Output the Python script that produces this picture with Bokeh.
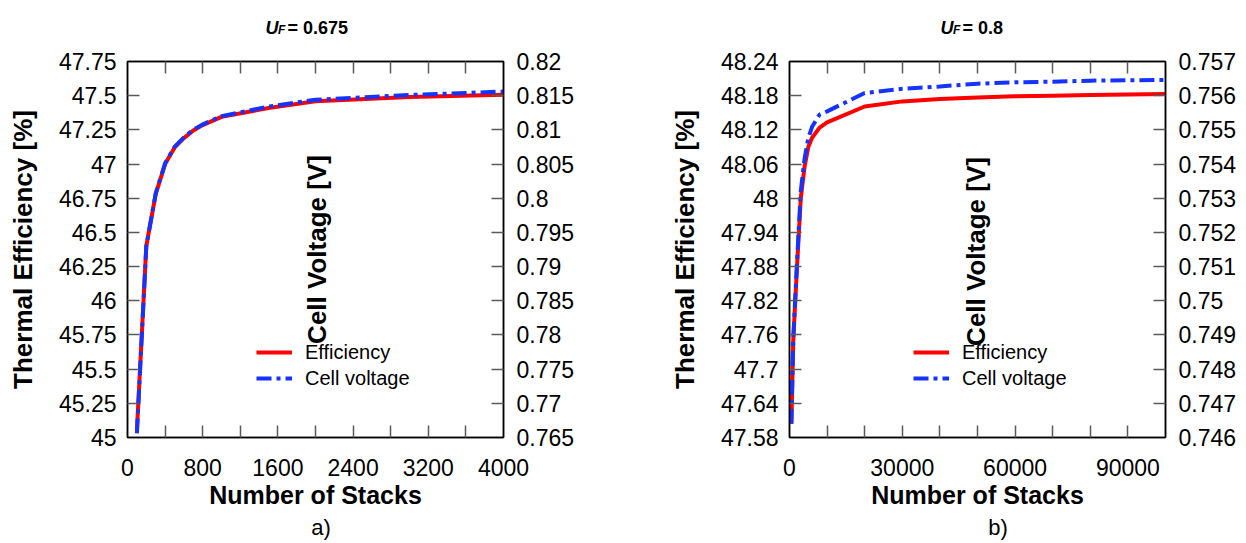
import math
from bokeh.plotting import figure
from bokeh.models import (Range1d, LinearAxis, FixedTicker, Label, Legend,
                          LegendItem)
from bokeh.layouts import row, column
from bokeh.embed import file_html
from bokeh.resources import INLINE

# ------------------------------------------------------------------ data
# panel a)  U_F = 0.675
stacks_a = [100, 200, 300, 400, 500, 600, 700, 800, 1000, 1500, 2000, 3000, 4000]
eff_a = [45.05, 46.40, 46.78, 47.00, 47.12, 47.19, 47.245, 47.285, 47.345,
         47.41, 47.46, 47.49, 47.507]
volt_a = [0.7656, 0.7930, 0.8007, 0.8051, 0.8075, 0.8089, 0.8100, 0.8108,
          0.8120, 0.8134, 0.8144, 0.8151, 0.8156]

# panel b)  U_F = 0.8
stacks_b = [500, 1000, 2000, 3000, 4000, 5000, 6000, 8000, 10000, 20000, 30000,
            40000, 50000, 60000, 70000, 80000, 90000, 100000]
eff_b = [47.604, 47.75, 47.88, 48.00, 48.055, 48.09, 48.106, 48.124, 48.133,
         48.161, 48.170, 48.174, 48.177, 48.179, 48.180, 48.181, 48.182, 48.183]
volt_b = [0.74640, 0.74889, 0.75115, 0.75321, 0.75415, 0.75476, 0.75509,
          0.75545, 0.75554, 0.75608, 0.75620, 0.75627, 0.75635, 0.75639,
          0.75641, 0.75644, 0.75645, 0.75646]

# tick values and labels
eff_ticks_a = [45.0, 45.25, 45.5, 45.75, 46.0, 46.25, 46.5, 46.75, 47.0, 47.25, 47.5, 47.75]
eff_labels_a = ["45", "45.25", "45.5", "45.75", "46", "46.25", "46.5", "46.75",
                "47", "47.25", "47.5", "47.75"]
volt_ticks_a = [0.765, 0.77, 0.775, 0.78, 0.785, 0.79, 0.795, 0.8, 0.805, 0.81, 0.815, 0.82]
volt_labels_a = ["0.765", "0.77", "0.775", "0.78", "0.785", "0.79", "0.795", "0.8",
                 "0.805", "0.81", "0.815", "0.82"]
x_ticks_a = [0, 800, 1600, 2400, 3200, 4000]
x_labels_a = ["0", "800", "1600", "2400", "3200", "4000"]
x_marks_a = [400, 800, 1200, 1600, 2000, 2400, 2800, 3200, 3600]

eff_ticks_b = [47.58, 47.64, 47.7, 47.76, 47.82, 47.88, 47.94, 48.0, 48.06, 48.12, 48.18, 48.24]
eff_labels_b = ["47.58", "47.64", "47.7", "47.76", "47.82", "47.88", "47.94", "48",
                "48.06", "48.12", "48.18", "48.24"]
volt_ticks_b = [0.746, 0.747, 0.748, 0.749, 0.75, 0.751, 0.752, 0.753, 0.754, 0.755, 0.756, 0.757]
volt_labels_b = ["0.746", "0.747", "0.748", "0.749", "0.75", "0.751", "0.752", "0.753",
                 "0.754", "0.755", "0.756", "0.757"]
x_ticks_b = [0, 30000, 60000, 90000]
x_labels_b = ["0", "30000", "60000", "90000"]
x_marks_b = [10000, 20000, 30000, 40000, 50000, 60000, 70000, 80000, 90000]

uf_a = "0.675"
uf_b = "0.8"

# ------------------------------------------------------------------ style
FONT = "Liberation Sans"
RED = "#ff0000"
BLUE = "#1433ff"
TICK = "#5a5a5a"
FRAME = 376
HEAD_H = 40
FOOT_H = 30
TOP_B = 21
BOT_B = 76


def style_axis(ax, standoff):
    ax.axis_line_color = "black"
    ax.axis_line_width = 1.5
    ax.major_tick_in = 0
    ax.major_tick_out = 0
    ax.minor_tick_in = 12
    ax.minor_tick_out = 0
    ax.minor_tick_line_color = TICK
    ax.minor_tick_line_width = 1.5
    ax.major_label_text_font = FONT
    ax.major_label_text_font_size = "23px"
    ax.major_label_text_color = "black"
    ax.major_label_standoff = standoff
    ax.axis_label_text_font = FONT
    ax.axis_label_text_font_style = "bold"
    ax.axis_label_text_color = "black"


def label(p, x, y, text, size, style="bold", angle=0.0, align="center",
          baseline="middle"):
    p.add_layout(Label(x=x, y=y, x_units="screen", y_units="screen", text=text,
                       angle=angle, text_align=align, text_baseline=baseline,
                       text_font=FONT, text_font_size=f"{size}px",
                       text_font_style=style, text_color="black"))


def text_strip(height):
    p = figure(width=1246, height=height, x_range=Range1d(0, 1),
               y_range=Range1d(0, 1), x_axis_location=None,
               y_axis_location=None, output_backend="svg",
               toolbar_location=None, min_border=0,
               background_fill_color="white", border_fill_color="white")
    p.outline_line_color = None
    p.grid.visible = False
    return p


def panel(stacks, eff, volt, eff_ticks, eff_labels, volt_ticks, volt_labels,
          x_ticks, x_labels, x_marks, x_end, border_left, border_right, pos):
    p = figure(frame_width=FRAME, frame_height=FRAME,
               x_range=Range1d(0, x_end),
               y_range=Range1d(eff_ticks[0], eff_ticks[-1]),
               output_backend="svg", toolbar_location=None,
               min_border_left=border_left, min_border_right=border_right,
               min_border_top=TOP_B, min_border_bottom=BOT_B,
               background_fill_color="white", border_fill_color="white")
    p.extra_y_ranges = {"volt": Range1d(volt_ticks[0], volt_ticks[-1])}
    p.xgrid.visible = False
    p.ygrid.visible = False
    p.outline_line_color = "black"
    p.outline_line_width = 1.5

    # left axis
    ya = p.yaxis[0]
    ya.ticker = FixedTicker(ticks=eff_ticks, minor_ticks=eff_ticks[1:-1])
    ya.major_label_overrides = dict(zip(eff_ticks, eff_labels))
    style_axis(ya, 11)
    ya.axis_label = "Thermal Efficiency [%]"
    ya.axis_label_text_font_size = "26px"
    ya.axis_label_standoff = 18
    # bottom axis
    xa = p.xaxis[0]
    xa.ticker = FixedTicker(ticks=x_ticks, minor_ticks=x_marks)
    xa.major_label_overrides = dict(zip(x_ticks, x_labels))
    style_axis(xa, 21)
    xa.axis_label = "Number of Stacks"
    xa.axis_label_text_font_size = "25px"
    xa.axis_label_standoff = 2
    # right axis
    ra = LinearAxis(y_range_name="volt",
                    ticker=FixedTicker(ticks=volt_ticks, minor_ticks=volt_ticks[1:-1]))
    ra.major_label_overrides = dict(zip(volt_ticks, volt_labels))
    style_axis(ra, 13)
    p.add_layout(ra, "right")
    # top axis (tick marks only)
    ta = LinearAxis(ticker=FixedTicker(ticks=[], minor_ticks=x_marks))
    style_axis(ta, 0)
    p.add_layout(ta, "above")

    r1 = p.line(stacks, eff, line_color=RED, line_width=4)
    r2 = p.line(stacks, volt, y_range_name="volt", line_color=BLUE, line_width=4,
                line_dash="15 5 4 5")

    leg = Legend(items=[LegendItem(label="Efficiency", renderers=[r1]),
                        LegendItem(label="Cell voltage", renderers=[r2])],
                 location=(pos["legend_x"], 46), padding=0, margin=0, spacing=0,
                 glyph_width=36, glyph_height=26, label_height=26,
                 label_standoff=13, border_line_color=None,
                 background_fill_alpha=0, label_text_font=FONT,
                 label_text_font_size="20px", label_text_color="black")
    p.add_layout(leg, "center")

    # right-axis title, drawn inside the plot area as in the original
    label(p, pos["vlab_x"], pos["vlab_y"], "Cell Voltage [V]", 26, angle=math.pi / 2)
    return p


pa = panel(stacks_a, eff_a, volt_a, eff_ticks_a, eff_labels_a, volt_ticks_a,
           volt_labels_a, x_ticks_a, x_labels_a, x_marks_a, 4000, 127, 120,
           dict(legend_x=129, vlab_x=189.5, vlab_y=188))
pb = panel(stacks_b, eff_b, volt_b, eff_ticks_b, eff_labels_b, volt_ticks_b,
           volt_labels_b, x_ticks_b, x_labels_b, x_marks_b, 100000, 166, 78,
           dict(legend_x=124, vlab_x=186.5, vlab_y=186))

# header: panel titles with subscript
head = text_strip(HEAD_H)
for x0, uf in ((265, uf_a), (940, uf_b)):
    label(head, x0, HEAD_H - 27, "U", 18, "bold italic", align="left", baseline="alphabetic")
    label(head, x0 + 12.5, HEAD_H - 29.5, "F", 12, "bold italic", align="left", baseline="alphabetic")
    label(head, x0 + 22, HEAD_H - 27, "= " + uf, 18, "bold", align="left", baseline="alphabetic")

# footer: panel tags
foot = text_strip(FOOT_H)
label(foot, 320.5, 16, "a)", 22, "normal")
label(foot, 997.5, 16, "b)", 22, "normal")

layout = column(head, row(pa, pb), foot)
open("out.html", "w").write(file_html(layout, INLINE))
